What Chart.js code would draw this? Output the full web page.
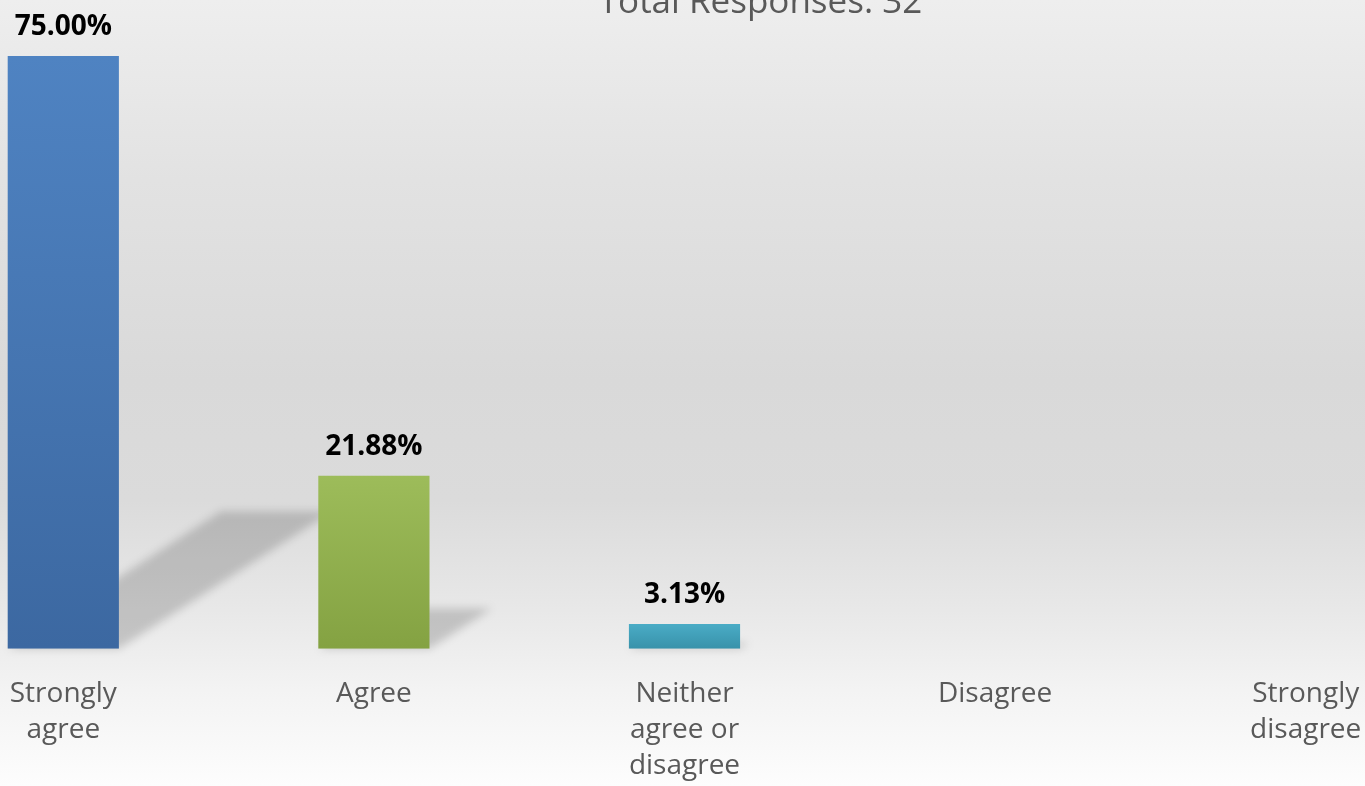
<!DOCTYPE html>
<html>
<head>
<meta charset="utf-8">
<script src="https://cdn.jsdelivr.net/npm/chart.js@4"></script>
<style>
    html, body {
        margin: 0;
        padding: 0;
        width: 1365px;
        height: 786px;
        overflow: hidden;
        background: linear-gradient(to bottom, #eeeeee 0px, #e2e2e2 180px, #d9d9d9 380px, #dbdbdb 500px, #e8e8e8 610px, #f3f3f3 690px, #fdfdfd 786px);
    }
    .chart-box {
        position: absolute;
        left: -92px;
        top: 0;
        width: 1553px;
        height: 811px;
    }
</style>
</head>
<body>
<div class="chart-box">
    <canvas id="responseChart"></canvas>
</div>
<script>
const categories = [
    ["Strongly", "agree"],
    ["Agree"],
    ["Neither", "agree or", "disagree"],
    ["Disagree"],
    ["Strongly", "disagree"]
];
const percentValues = [75.00, 21.88, 3.13, 0, 0];
const barTopColors = ["#4f83c2", "#9dbc5a", "#4aacc6", "#8064a2", "#f79646"];
const barBottomColors = ["#3c68a1", "#84a242", "#3892aa", "#6a5088", "#d57c30"];
const titleText = "Total Responses: 32";

// dégradé vertical pour chaque barre
function barGradient(ctx) {
    const chart = ctx.chart;
    const i = ctx.dataIndex;
    if (!chart.chartArea) return barTopColors[i];
    const y = chart.scales.y;
    const top = y.getPixelForValue(ctx.raw);
    const bottom = y.getPixelForValue(0);
    if (bottom - top < 1) return barTopColors[i];
    const g = chart.ctx.createLinearGradient(0, top, 0, bottom);
    g.addColorStop(0, barTopColors[i]);
    g.addColorStop(1, barBottomColors[i]);
    return g;
}

// ombre portée oblique derrière les barres
const barShadow = {
    id: "barShadow",
    beforeDatasetsDraw(chart) {
        const ctx = chart.ctx;
        const meta = chart.getDatasetMeta(0);
        ctx.save();
        ctx.filter = "blur(4px)";
        ctx.fillStyle = "rgba(0,0,0,0.17)";
        meta.data.forEach(bar => {
            const p = bar.getProps(["x", "y", "base", "width"], true);
            const h = p.base - p.y;
            if (h < 1) return;
            const left = p.x - p.width / 2;
            const right = p.x + p.width / 2;
            const dx = h * 0.36, dy = h * 0.232;
            ctx.beginPath();
            ctx.moveTo(left, p.base);
            ctx.lineTo(right, p.base);
            ctx.lineTo(right + dx, p.base - dy);
            ctx.lineTo(left + dx, p.base - dy);
            ctx.closePath();
            ctx.fill();
        });
        ctx.restore();
    }
};

// étiquettes de valeur + titre
const valueLabels = {
    id: "valueLabels",
    afterDatasetsDraw(chart) {
        const ctx = chart.ctx;
        const meta = chart.getDatasetMeta(0);
        ctx.save();
        ctx.font = "bold 28px 'Open Sans'";
        ctx.fillStyle = "#000000";
        ctx.textAlign = "center";
        ctx.textBaseline = "alphabetic";
        meta.data.forEach((bar, i) => {
            if (!percentValues[i]) return;
            ctx.fillText(percentValues[i].toFixed(2) + "%", bar.x, bar.y - 21);
        });

        ctx.font = "35px 'Open Sans'";
        ctx.fillStyle = "#595959";
        ctx.fillText(titleText, chart.width / 2 + 76, 13);
        ctx.restore();
    }
};

const ctx = document.getElementById("responseChart").getContext("2d");

new Chart(ctx, {
    type: "bar",
    data: {
        labels: categories,
        datasets: [{
            data: percentValues,
            backgroundColor: barGradient,
            borderWidth: 0,
            categoryPercentage: 1,
            barPercentage: 0.358
        }]
    },
    options: {
        responsive: true,
        maintainAspectRatio: false,
        animation: false,
        layout: {
            padding: { top: 56, left: 0, right: 0, bottom: 0 }
        },
        plugins: {
            legend: { display: false },
            title: { display: false },
            tooltip: { enabled: false }
        },
        scales: {
            x: {
                grid: { display: false, drawTicks: false },
                border: { display: false },
                ticks: {
                    padding: 27,
                    color: "#595959",
                    maxRotation: 0,
                    autoSkip: false,
                    font: { family: "'Open Sans'", size: 28, lineHeight: 1.29 }
                }
            },
            y: {
                display: false,
                min: 0,
                max: 75
            }
        }
    },
    plugins: [barShadow, valueLabels]
});
</script>
</body>
</html>
